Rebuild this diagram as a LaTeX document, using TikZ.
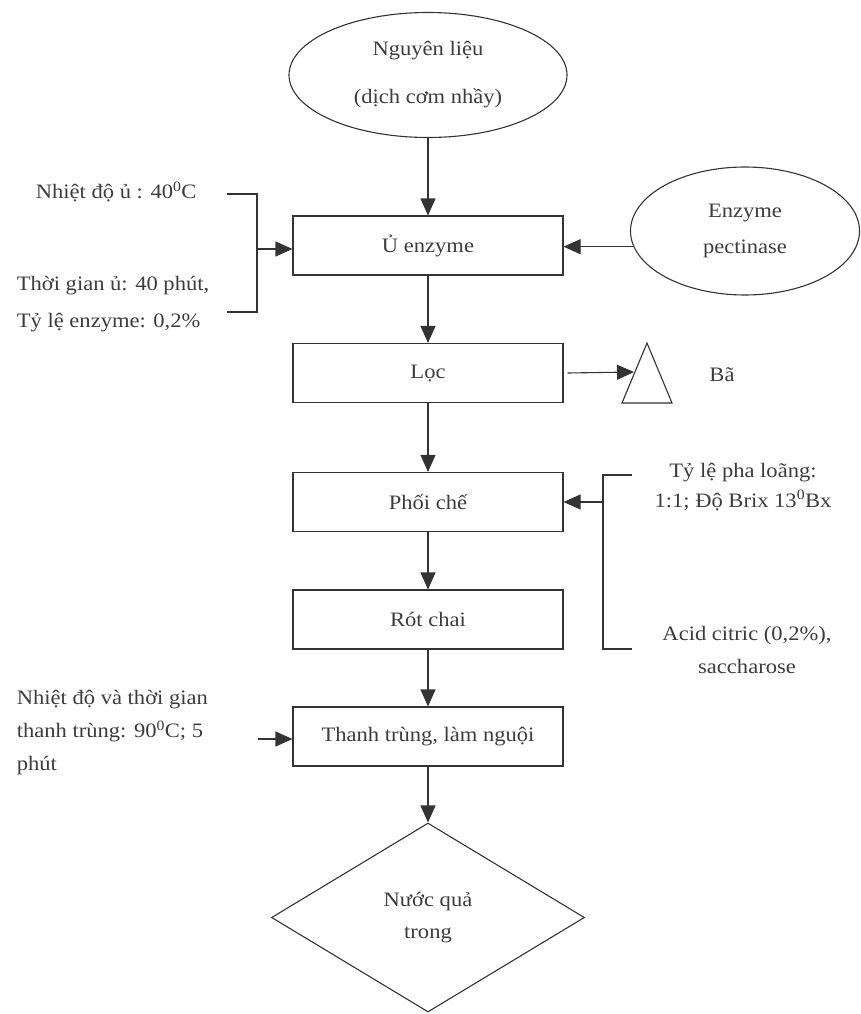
\documentclass[tikz,border=0pt]{standalone}
\usepackage{fontspec}
\setmainfont{Liberation Serif}[FakeStretch=1.1]
\usetikzlibrary{shapes.geometric,arrows.meta}
\definecolor{ink}{HTML}{333333}
\definecolor{txt}{HTML}{3C3C3C}

\begin{document}
\begin{tikzpicture}[x=1pt, y=-1pt, line width=1.1pt, color=ink, text=txt,
  font=\fontsize{20.5}{33}\selectfont,
  stepbox/.style={draw, rectangle, minimum width=270pt, minimum height=59pt, inner sep=0pt},
  source/.style={draw, ellipse, inner sep=0pt, align=center},
  flow/.style={-{Triangle[length=17pt,width=15pt]}}]
\useasboundingbox (0,0) rectangle (860,1014);
\node[source, minimum width=278pt, minimum height=125pt] (raw) at (428,75) {Nguyên liệu\\[15pt](dịch cơm nhầy)};
\node[stepbox] (uenz) at (428,245.5) {Ủ enzyme};
\node[stepbox] (loc) at (428,373) {Lọc};
\node[stepbox] (phoi) at (428,502) {Phối chế};
\node[stepbox] (rot) at (428,619.5) {Rót chai};
\node[stepbox] (thanh) at (428,736.5) {Thanh trùng, làm nguội};
\node[draw, diamond, minimum width=313pt, minimum height=189pt, inner sep=0pt, align=center] (juice) at (428,917.5) {Nước quả\\[-1pt]trong};
\node[source, minimum width=229pt, minimum height=128pt] (enz) at (745,231) {Enzyme\\[3pt]pectinase};
\draw[flow] (raw) -- (uenz);
\draw[flow] (uenz) -- (loc);
\draw[flow] (loc) -- (phoi);
\draw[flow] (phoi) -- (rot);
\draw[flow] (rot) -- (thanh);
\draw[flow] (thanh) -- (juice);
\draw[flow] (enz.188) -- (enz.188 -| uenz.east);
\node[anchor=west] (temp) at (32,192) {Nhiệt độ ủ : 40\textsuperscript{0}C};
\node[anchor=west, align=left] (time) at (13,304) {Thời gian ủ: 40 phút,\\[4pt]Tỷ lệ enzyme: 0,2\%};
\draw (227,194) -| (257,312) -- (227,312);
\coordinate (lbr) at (257,249);
\draw[flow] (lbr) -- (lbr -| uenz.west);
\draw (622,403) -- (647,343) -- (672,403) -- cycle;
\coordinate (waste) at (634,372);
\draw[flow] ([xshift=4pt]loc.east) -- (waste);
\node (ba) at (722,375) {Bã};
\node[align=center] (dil) at (743,487) {Tỷ lệ pha loãng:\\[-3pt]1:1; Độ Brix 13\textsuperscript{0}Bx};
\node[align=center] (acid) at (747,650) {Acid citric (0,2\%),\\saccharose};
\draw (632,475) -| (603,649) -- (632,649);
\coordinate (rbr) at (603,502);
\draw[flow] (rbr) -- (phoi.east);
\node[anchor=west, align=left] (heat) at (13,733) {Nhiệt độ và thời gian\\thanh trùng: 90\textsuperscript{0}C; 5\\phút};
\coordinate (hin) at (258,739);
\draw[flow] (hin) -- (hin -| thanh.west);
\end{tikzpicture}
\end{document}
